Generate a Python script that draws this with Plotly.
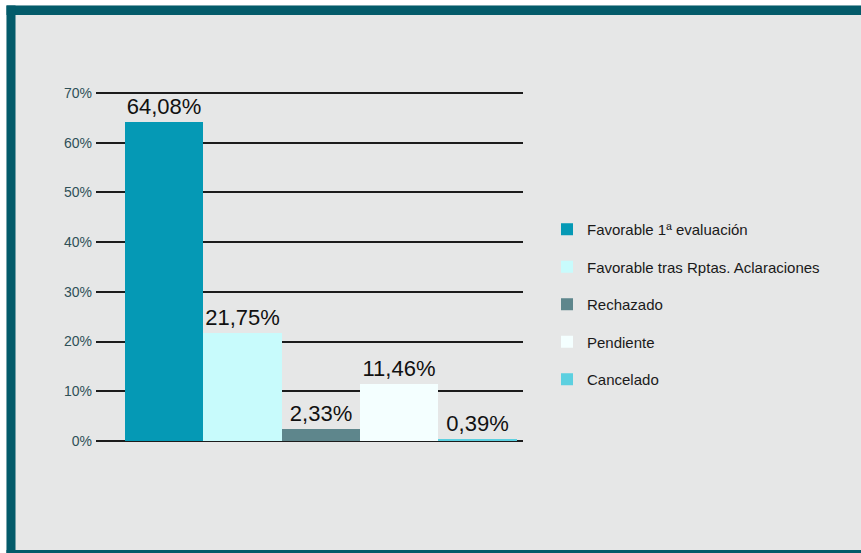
import plotly.graph_objects as go

categories = ["Favorable 1ª evaluación", "Favorable tras Rptas. Aclaraciones",
              "Rechazado", "Pendiente", "Cancelado"]
values = [64.08, 21.75, 2.33, 11.46, 0.39]
colors = ["#0599b5", "#c8fbfc", "#5e868c", "#f4ffff", "#5cd0e0"]
tick_vals = [0, 10, 20, 30, 40, 50, 60, 70]
tick_text = ["0%", "10%", "20%", "30%", "40%", "50%", "60%", "70%"]

W, H = 861, 553
Y_TOP = 71
L, R, B = 96, 338, 112
T = 93 - (Y_TOP - 70) * (441 - 93) / 70
PW, PH = W - L - R, H - T - B

def px_x(px):
    return (px - L) / PW

def px_y(py):
    return (H - B - py) / PH

FONT = "Liberation Sans Narrow, Arial Narrow, Liberation Sans, Arial, sans-serif"

fig = go.Figure()
for i, (cat, val, col) in enumerate(zip(categories, values, colors)):
    fig.add_trace(go.Bar(
        x=[i], y=[val], name=cat, legendgroup=cat,
        marker=dict(color=col, line=dict(width=0)),
        width=1,
        text=[val], texttemplate="%{y:.2f}%", textposition="outside",
        textfont=dict(family=FONT, size=22, color="#111111"),
        cliponaxis=False,
    ))

shapes = [
    dict(type="rect", xref="paper", yref="paper", x0=px_x(0), x1=px_x(W), y0=px_y(0), y1=px_y(5.5),
         fillcolor="#ffffff", line=dict(width=0), layer="below"),
    dict(type="rect", xref="paper", yref="paper", x0=px_x(0), x1=px_x(6.5), y0=px_y(0), y1=px_y(H),
         fillcolor="#ffffff", line=dict(width=0), layer="below"),
    dict(type="rect", xref="paper", yref="paper", x0=px_x(6.5), x1=px_x(W), y0=px_y(5.5), y1=px_y(15),
         fillcolor="#035b6a", line=dict(width=0), layer="below"),
    dict(type="rect", xref="paper", yref="paper", x0=px_x(6.5), x1=px_x(15.5), y0=px_y(5.5), y1=px_y(H),
         fillcolor="#035b6a", line=dict(width=0), layer="below"),
    dict(type="rect", xref="paper", yref="paper", x0=px_x(6.5), x1=px_x(W), y0=px_y(550), y1=px_y(H),
         fillcolor="#035b6a", line=dict(width=0), layer="below"),
]

fig.update_layout(
    width=W, height=H,
    margin=dict(l=L, r=R, t=T, b=B, pad=0),
    paper_bgcolor="#e6e7e7", plot_bgcolor="rgba(0,0,0,0)",
    barmode="overlay", bargap=0,
    separators=",.",
    showlegend=True,
    legend=dict(
        x=px_x(547), y=px_y(213), xanchor="left", yanchor="top",
        bgcolor="rgba(0,0,0,0)", borderwidth=0,
        font=dict(family=FONT, size=15, color="#1a1a1a"),
        tracegroupgap=15, itemclick=False,
    ),
    xaxis=dict(range=[-0.87, 4.58], showticklabels=False, showgrid=False,
               zeroline=False, showline=False, ticks="", fixedrange=True),
    yaxis=dict(range=[0, Y_TOP], tickmode="array", tickvals=tick_vals, ticktext=tick_text,
               showgrid=True, gridcolor="#1c1c1c", gridwidth=2,
               zeroline=True, zerolinecolor="#1c1c1c", zerolinewidth=2,
               showline=False, ticks="", ticklabelstandoff=3,
               tickfont=dict(family=FONT, size=14, color="#2f5057"),
               fixedrange=True),
    shapes=shapes,
    font=dict(family=FONT),
)

fig.write_html("out.html", config={"displayModeBar": False},
               post_script="document.body.style.margin='0';")
